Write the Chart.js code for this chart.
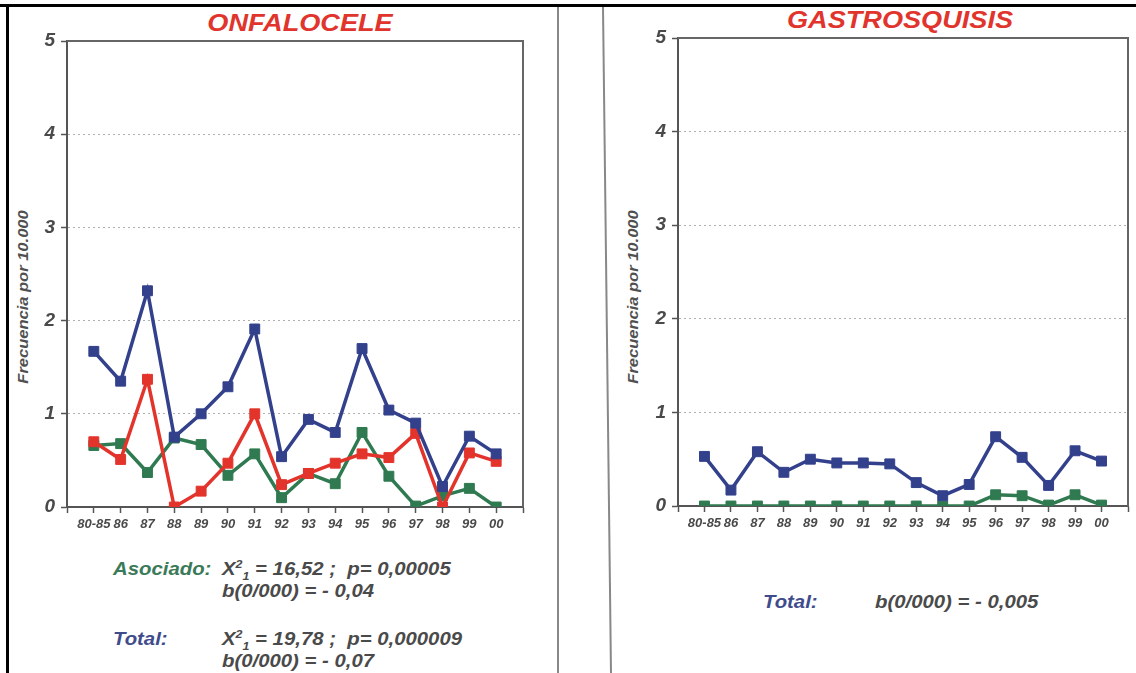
<!DOCTYPE html>
<html>
<head>
<meta charset="utf-8">
<script src="https://cdn.jsdelivr.net/npm/chart.js@4.4.1/dist/chart.umd.min.js"></script>
<style>
  html, body { margin:0; padding:0; background:#fff; }
  #page { position:relative; width:1136px; height:673px; overflow:hidden; background:#fff;
          font-family:"Liberation Sans", Arial, sans-serif; font-weight:bold; font-style:italic; }
  .abs { position:absolute; white-space:nowrap; }
  canvas { position:absolute; }
  .title { color:#e0342c; font-size:24px; transform:translateX(-50%) scaleX(1.13); }
  .ytitle { color:#505050; font-size:15px; transform:translate(-50%,-50%) rotate(-90deg) scaleX(1.1); }
  .stat, .asoc, .tot { font-size:18px; transform-origin:left center; transform:scaleX(1.13); }
  .stat { color:#4a4a4a; }
  .asoc { color:#3b7a58; }
  .tot { color:#3f4c8c; }
  sup, sub { font-size:11px; line-height:0; }
</style>
</head>
<body>
<div id="page">
  <div class="abs" style="left:0;top:4px;width:1136px;height:3px;background:#000"></div>
  <div class="abs" style="left:6px;top:4px;width:3px;height:669px;background:#000"></div>
  <div class="abs" style="left:557px;top:7px;width:2px;height:666px;background:#888"></div>
  <svg class="abs" style="left:0;top:0" width="1136" height="673"><line x1="603" y1="7" x2="611" y2="673" stroke="#888" stroke-width="2"/></svg>

  <div class="abs title" style="left:300px;top:9px">ONFALOCELE</div>
  <div class="abs title" style="left:900px;top:6px">GASTROSQUISIS</div>
  <div class="abs ytitle" style="left:22px;top:297px">Frecuencia por 10.000</div>
  <div class="abs ytitle" style="left:632px;top:297px">Frecuencia por 10.000</div>

  <canvas id="c1" width="555" height="540" style="left:0;top:0;width:555px;height:540px"></canvas>
  <canvas id="c2" width="576" height="540" style="left:560px;top:0;width:576px;height:540px"></canvas>

  <div class="abs asoc" style="left:113px;top:559px">Asociado:</div>
  <div class="abs stat" style="left:222px;top:559px">X<sup>2</sup><sub>1</sub> = 16,52 ;&nbsp; p= 0,00005</div>
  <div class="abs stat" style="left:222px;top:581px">b(0/000) = - 0,04</div>
  <div class="abs tot" style="left:113px;top:629px">Total:</div>
  <div class="abs stat" style="left:222px;top:629px">X<sup>2</sup><sub>1</sub> = 19,78 ;&nbsp; p= 0,000009</div>
  <div class="abs stat" style="left:222px;top:651px">b(0/000) = - 0,07</div>

  <div class="abs tot" style="left:763px;top:592px">Total:</div>
  <div class="abs stat" style="left:875px;top:592px">b(0/000) = - 0,005</div>
</div>
<script>
const categories = ["80-85","86","87","88","89","90","91","92","93","94","95","96","97","98","99","00"];
const yTicks = [0,1,2,3,4,5];

// ONFALOCELE
const onfTotal    = [1.67,1.35,2.32,0.75,1.00,1.29,1.91,0.54,0.94,0.80,1.70,1.04,0.90,0.22,0.76,0.57];
const onfAislado  = [0.70,0.51,1.37,0.00,0.17,0.47,1.00,0.24,0.36,0.47,0.57,0.53,0.79,0.00,0.58,0.49];
const onfAsociado = [0.66,0.68,0.37,0.74,0.67,0.34,0.57,0.10,0.36,0.25,0.80,0.33,0.01,0.12,0.20,0.00];

// GASTROSQUISIS
const gasTotal    = [0.53,0.17,0.58,0.36,0.50,0.46,0.46,0.45,0.25,0.11,0.23,0.74,0.52,0.22,0.59,0.48];
const gasAsociado = [0.00,0.00,0.00,0.00,0.00,0.00,0.00,0.00,0.00,0.00,0.00,0.12,0.11,0.01,0.12,0.01];

const BLUE = "#33408c", RED = "#e3342c", GREEN = "#2f7a50";

function series(vals) { return vals.map((v, i) => ({ x: i + 1, y: v })); }
function ds(label, vals, color) {
  return { label, data: series(vals), borderColor: color, backgroundColor: color,
    borderWidth: 3.5, pointStyle: "rect", pointRadius: 7, pointHoverRadius: 7,
    pointBorderWidth: 1, tension: 0 };
}

const frame = {
  id: "frame",
  beforeDatasetsDraw(chart) {
    const a = chart.chartArea, ctx = chart.ctx;
    ctx.save();
    ctx.strokeStyle = "#666"; ctx.lineWidth = 2;
    ctx.beginPath();
    ctx.moveTo(a.left, a.top); ctx.lineTo(a.right, a.top); ctx.lineTo(a.right, a.bottom);
    ctx.stroke();
    ctx.restore();
  }
};

function makeChart(id, datasets, pad, yWidth, xHeight) {
  return new Chart(document.getElementById(id), {
    type: "line",
    data: { datasets },
    plugins: [frame],
    options: {
      responsive: false, animation: false, devicePixelRatio: 1,
      layout: { padding: pad },
      plugins: { legend: { display: false }, tooltip: { enabled: false }, title: { display: false } },
      scales: {
        x: {
          type: "linear", min: 0, max: categories.length + 1,
          afterFit: s => { s.height = xHeight; },
          afterBuildTicks: s => { s.ticks = Array.from({ length: categories.length + 2 }, (_, i) => ({ value: i })); },
          ticks: {
            autoSkip: false, maxRotation: 0, padding: 4, color: "#4a4a4a",
            font: { family: "Liberation Sans", size: 13, weight: "bold", style: "italic" },
            callback: v => (v >= 1 && v <= categories.length) ? categories[v - 1] : ""
          },
          grid: { drawOnChartArea: false, drawTicks: true, tickLength: 6, color: "#555", tickWidth: 1.5 },
          border: { display: true, color: "#555", width: 2 }
        },
        y: {
          min: 0, max: 5,
          afterFit: s => { s.width = yWidth; },
          afterBuildTicks: s => { s.ticks = yTicks.map(v => ({ value: v })); },
          ticks: {
            padding: 6, color: "#4a4a4a",
            font: { family: "Liberation Sans", size: 19, weight: "bold", style: "italic" }
          },
          grid: { color: "#b0b0b0", lineWidth: 1, tickLength: 6, tickColor: "#555", tickWidth: 1.5, tickBorderDash: [] },
          border: { display: true, color: "#555", width: 2, dash: [2, 3] }
        }
      }
    }
  });
}

makeChart("c1", [ds("Total", onfTotal, BLUE), ds("Aislado", onfAislado, RED), ds("Asociado", onfAsociado, GREEN)],
  { left: 0, top: 41, right: 32, bottom: 0 }, 67, 33);
makeChart("c2", [ds("Total", gasTotal, BLUE), ds("Asociado", gasAsociado, GREEN)],
  { left: 0, top: 38, right: 5, bottom: 0 }, 118, 34);
</script>
</body>
</html>
